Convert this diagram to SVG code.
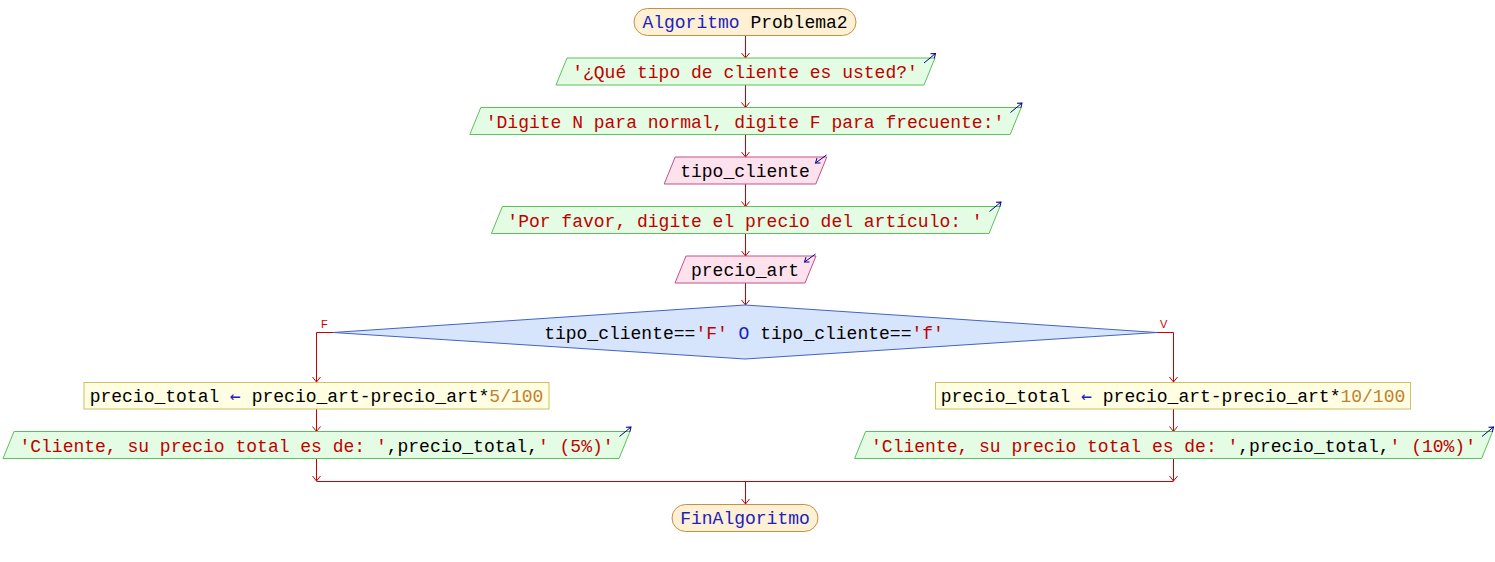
<svg xmlns="http://www.w3.org/2000/svg" width="1495" height="562" viewBox="0 0 1495 562">
  <style>
    .txt { font-family: "Liberation Mono", "DejaVu Sans Mono", monospace; font-size: 18px; fill: #000000; }
    .str { fill: #c00000; }
    .kw { fill: #2020c0; }
    .op { font-family: "DejaVu Sans Mono", "Liberation Mono", monospace; fill: #2020c0; }
    .num { fill: #c08030; }
    .term { fill: #fdf0d4; stroke: #c8903c; stroke-width: 1; }
    .out { fill: #e4fce4; stroke: #5cc05c; stroke-width: 1; }
    .in { fill: #fde2ee; stroke: #c05088; stroke-width: 1; }
    .asg { fill: #fffde2; stroke: #cfc060; stroke-width: 1; }
    .dec { fill: #d6e4fc; stroke: #4262c8; stroke-width: 1; }
    .conn { fill: none; stroke: #cc0000; stroke-width: 1; }
    .io { fill: none; stroke: #000090; stroke-width: 1; }
    .lbl { font-family: "Liberation Sans", "DejaVu Sans", sans-serif; font-size: 11px; fill: #cc0000; }
  </style>
  <defs>
    <marker id="arr" viewBox="-6 -6 12 12" refX="0" refY="0" markerWidth="12" markerHeight="12" markerUnits="userSpaceOnUse" orient="auto">
      <path d="M-5,-4 L0,0 L-5,4" fill="none" stroke="#cc0000" stroke-width="1"/>
    </marker>
    <marker id="ioarr" viewBox="-6 -6 12 12" refX="0" refY="0" markerWidth="12" markerHeight="12" markerUnits="userSpaceOnUse" orient="auto">
      <path d="M-4,-3 L0,0 L-4,3" fill="none" stroke="#000090" stroke-width="1"/>
    </marker>
  </defs>

  <!-- connectors -->
  <g id="connectors">
    <path class="conn" d="M745.5,35 V58" marker-end="url(#arr)"/>
    <path class="conn" d="M745.5,85 V107.5" marker-end="url(#arr)"/>
    <path class="conn" d="M745.5,134.5 V157" marker-end="url(#arr)"/>
    <path class="conn" d="M745.5,184 V206.5" marker-end="url(#arr)"/>
    <path class="conn" d="M745.5,233.5 V256" marker-end="url(#arr)"/>
    <path class="conn" d="M745.5,283 V305" marker-end="url(#arr)"/>
    <path class="conn" d="M333,332.5 H316.5 V382" marker-end="url(#arr)"/>
    <path class="conn" d="M1157,332.5 H1173.5 V382" marker-end="url(#arr)"/>
    <path class="conn" d="M316.5,409 V431.5" marker-end="url(#arr)"/>
    <path class="conn" d="M1173.5,409 V431.5" marker-end="url(#arr)"/>
    <path class="conn" d="M316.5,458.5 V481" marker-end="url(#arr)"/>
    <path class="conn" d="M1173.5,458.5 V481" marker-end="url(#arr)"/>
    <path class="conn" d="M316.5,481.5 H1173.5"/>
    <path class="conn" d="M745.5,481.5 V504" marker-end="url(#arr)"/>
    <text class="lbl" x="321" y="328">F</text>
    <text class="lbl" x="1160" y="328">V</text>
  </g>

  <!-- start -->
  <g id="inicio">
    <rect class="term" x="634" y="8.5" width="222" height="27" rx="13.5" ry="13.5"/>
    <text class="txt" x="745" y="28" text-anchor="middle"><tspan class="kw">Algoritmo</tspan> Problema2</text>
  </g>

  <!-- output: customer type question -->
  <g id="escribir1">
    <polygon class="out" points="567,58 935,58 924,85 556,85"/>
    <path class="io" d="M924,63 L935.5,53.5" marker-end="url(#ioarr)"/>
    <text class="txt str" x="745" y="78" text-anchor="middle">'¿Qué tipo de cliente es usted?'</text>
  </g>

  <!-- output: instructions -->
  <g id="escribir2">
    <polygon class="out" points="480.8,107.5 1021.2,107.5 1010.2,134.5 469.8,134.5"/>
    <path class="io" d="M1010.5,112.5 L1022,103" marker-end="url(#ioarr)"/>
    <text class="txt str" x="745" y="127.5" text-anchor="middle">'Digite N para normal, digite F para frecuente:'</text>
  </g>

  <!-- input: tipo_cliente -->
  <g id="leer1">
    <polygon class="in" points="675.2,157 826.8,157 815.8,184 664.2,184"/>
    <path class="io" d="M826.5,155 L815.5,163" marker-end="url(#ioarr)"/>
    <text class="txt" x="745" y="177" text-anchor="middle">tipo_cliente</text>
  </g>

  <!-- output: price prompt -->
  <g id="escribir3">
    <polygon class="out" points="502.4,206.5 1000,206.5 989,233.5 491.4,233.5"/>
    <path class="io" d="M989.5,211.5 L1001,202" marker-end="url(#ioarr)"/>
    <text class="txt str" x="745" y="226.5" text-anchor="middle">'Por favor, digite el precio del artículo: '</text>
  </g>

  <!-- input: precio_art -->
  <g id="leer2">
    <polygon class="in" points="686,256 816,256 805,283 675,283"/>
    <path class="io" d="M815.5,254 L804.5,262" marker-end="url(#ioarr)"/>
    <text class="txt" x="745" y="276" text-anchor="middle">precio_art</text>
  </g>

  <!-- decision -->
  <g id="si">
    <polygon class="dec" points="745,305 1157,332.5 745,359 333,332.5"/>
    <text class="txt" x="744" y="339" text-anchor="middle">tipo_cliente==<tspan class="str">'F'</tspan><tspan class="kw"> O </tspan>tipo_cliente==<tspan class="str">'f'</tspan></text>
  </g>

  <!-- left branch: 5% discount -->
  <g id="asignar_f">
    <rect class="asg" x="84" y="382.5" width="465" height="26.5"/>
    <text class="txt" x="316.5" y="402" text-anchor="middle">precio_total <tspan class="op">←</tspan> precio_art-precio_art*<tspan class="num">5/100</tspan></text>
  </g>
  <g id="escribir_f">
    <polygon class="out" points="14,431.5 630,431.5 619,458.5 3,458.5"/>
    <path class="io" d="M619.5,436.5 L631,427" marker-end="url(#ioarr)"/>
    <text class="txt" x="316.5" y="451.5" text-anchor="middle"><tspan class="str">'Cliente, su precio total es de: '</tspan>,precio_total,<tspan class="str">' (5%)'</tspan></text>
  </g>

  <!-- right branch: 10% discount -->
  <g id="asignar_v">
    <rect class="asg" x="935.5" y="382.5" width="475" height="26.5"/>
    <text class="txt" x="1173" y="402" text-anchor="middle">precio_total <tspan class="op">←</tspan> precio_art-precio_art*<tspan class="num">10/100</tspan></text>
  </g>
  <g id="escribir_v">
    <polygon class="out" points="865.6,431.5 1492.6,431.5 1481.6,458.5 854.6,458.5"/>
    <path class="io" d="M1482,436.5 L1493.5,427" marker-end="url(#ioarr)"/>
    <text class="txt" x="1173.5" y="451.5" text-anchor="middle"><tspan class="str">'Cliente, su precio total es de: '</tspan>,precio_total,<tspan class="str">' (10%)'</tspan></text>
  </g>

  <!-- end -->
  <g id="fin">
    <rect class="term" x="672" y="504.5" width="146" height="27" rx="13.5" ry="13.5"/>
    <text class="txt kw" x="745" y="524" text-anchor="middle">FinAlgoritmo</text>
  </g>
</svg>
